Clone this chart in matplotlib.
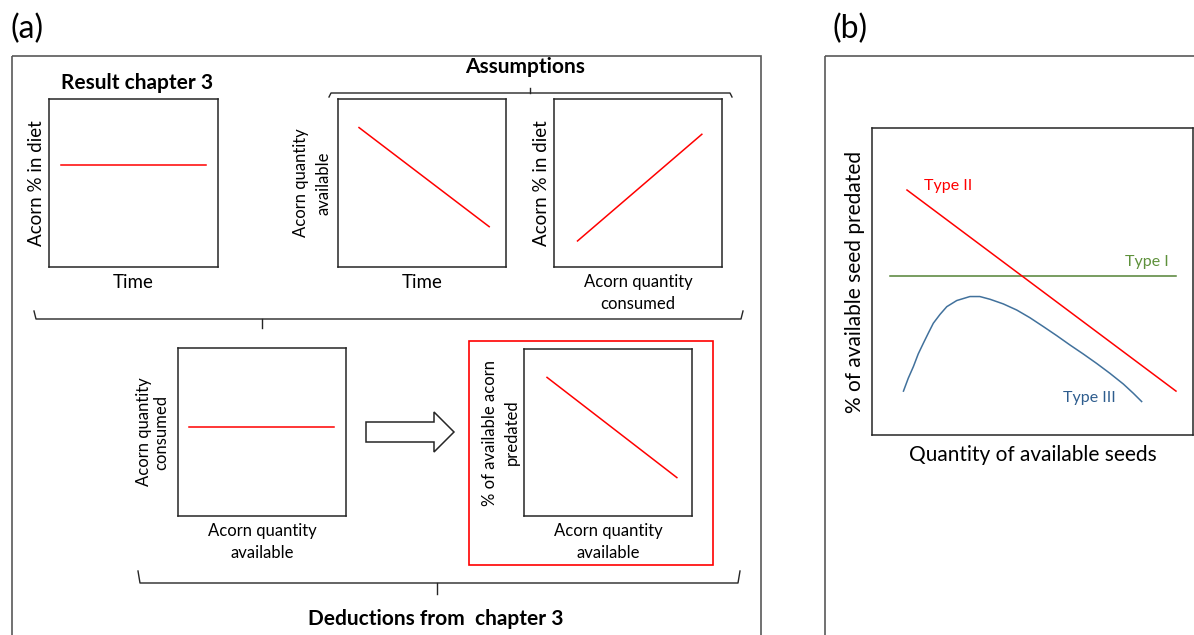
import matplotlib
matplotlib.use("Agg")
import matplotlib.pyplot as plt
from matplotlib.patches import Rectangle, Polygon

plt.rcParams["font.family"] = ["Lato", "DejaVu Sans"]

# ---------------------------------------------------------------
# data (normalised 0-1 within each small panel)
# ---------------------------------------------------------------
# (a) top row
result_x = [0.07, 0.93]
result_y = [0.61, 0.61]
avail_time_x = [0.125, 0.90]
avail_time_y = [0.83, 0.24]
diet_consumed_x = [0.14, 0.88]
diet_consumed_y = [0.155, 0.79]
# (a) bottom row
consumed_x = [0.065, 0.93]
consumed_y = [0.53, 0.53]
predated_x = [0.137, 0.91]
predated_y = [0.83, 0.23]

# (b) functional responses
type1_x = [0.056, 0.947]
type1_y = [0.518, 0.518]
type2_x = [0.109, 0.947]
type2_y = [0.798, 0.143]
type3_x = [0.098, 0.113, 0.129, 0.144, 0.160, 0.176, 0.191, 0.212, 0.233,
           0.264, 0.305, 0.336, 0.368, 0.409, 0.451, 0.492, 0.534, 0.575,
           0.617, 0.658, 0.700, 0.741, 0.783, 0.814, 0.840]
type3_y = [0.143, 0.185, 0.223, 0.264, 0.299, 0.333, 0.364, 0.393, 0.418,
           0.438, 0.451, 0.451, 0.442, 0.427, 0.407, 0.382, 0.353, 0.324,
           0.293, 0.264, 0.233, 0.201, 0.166, 0.136, 0.109]

W, H = 1194, 635
fig = plt.figure(figsize=(W / 100, H / 100), dpi=100)

# overlay in pixel coordinates for frames, braces, arrow and headings
ov = fig.add_axes([0, 0, 1, 1])
ov.set_xlim(0, W)
ov.set_ylim(H, 0)
ov.axis("off")

FRAME = "#595959"
BOX = "#262626"
RED = "#FF0000"


def px_axes(l, t, r, b):
    ax = fig.add_axes([l / W, 1 - b / H, (r - l) / W, (b - t) / H])
    ax.set_xlim(0, 1)
    ax.set_ylim(0, 1)
    ax.set_xticks([])
    ax.set_yticks([])
    for s in ax.spines.values():
        s.set_color(BOX)
        s.set_linewidth(1.1)
    return ax


def brace(x0, x1, xc, y, tip, end):
    # horizontal brace: ends bend by `end` px, centre tick by `tip` px
    ov.plot([x0, x0 + 2, x1 - 2, x1], [y + end, y, y, y + end], color=BOX, lw=1.0,
            solid_joinstyle="round")
    ov.plot([xc, xc], [y, y + tip], color=BOX, lw=1.0)


# outer frames
ov.add_patch(Rectangle((12, 56), 749, 700, fill=False, ec=FRAME, lw=1.2))
ov.add_patch(Rectangle((825, 56), 500, 700, fill=False, ec=FRAME, lw=1.2))
ov.text(11, 29, "(a)", fontsize=23, va="center", ha="left")
ov.text(833, 29, "(b)", fontsize=23, va="center", ha="left")

# headings and braces
HEAD = 15
ov.text(137, 83, "Result chapter 3", fontsize=HEAD, fontweight="bold", ha="center", va="center")
ov.text(525, 67, "Assumptions", fontsize=HEAD, fontweight="bold", ha="center", va="center")
brace(329, 732, 530, 93, -5, 4)
brace(34, 743, 262, 319, 9, -8)
brace(138, 740, 437, 583, 11, -12)
ov.text(436, 619, "Deductions from  chapter 3", fontsize=HEAD, fontweight="bold",
        ha="center", va="center")

# red highlight box and arrow
ov.add_patch(Rectangle((469, 341), 244, 224, fill=False, ec=RED, lw=1.2))
arrow = [(366, 422), (434, 422), (434, 412), (454, 432), (434, 452), (434, 442), (366, 442)]
ov.add_patch(Polygon(arrow, closed=True, fc="white", ec=BOX, lw=1.1))

LBL = 13.5
SML = 12
LS = 1.45

# panel 1: result chapter 3
ax1 = px_axes(49, 99, 218, 267)
ax1.plot(result_x, result_y, color=RED, lw=1.1)
ax1.set_xlabel("Time", fontsize=LBL, labelpad=5)
ax1.set_ylabel("Acorn % in diet", fontsize=LBL, labelpad=3)

# panel 2: availability over time
ax2 = px_axes(338, 99, 506, 267)
ax2.plot(avail_time_x, avail_time_y, color=RED, lw=1.1)
ax2.set_xlabel("Time", fontsize=LBL, labelpad=5)
ax2.set_ylabel("Acorn quantity\navailable", fontsize=SML, labelpad=5, linespacing=LS)

# panel 3: diet vs consumed
ax3 = px_axes(554, 99, 722, 267)
ax3.plot(diet_consumed_x, diet_consumed_y, color=RED, lw=1.1)
ax3.set_xlabel("Acorn quantity\nconsumed", fontsize=SML, labelpad=5, linespacing=LS)
ax3.set_ylabel("Acorn % in diet", fontsize=LBL, labelpad=3)

# panel 4: consumed vs available
ax4 = px_axes(178, 348, 346, 516)
ax4.plot(consumed_x, consumed_y, color=RED, lw=1.1)
ax4.set_xlabel("Acorn quantity\navailable", fontsize=SML, labelpad=5, linespacing=LS)
ax4.set_ylabel("Acorn quantity\nconsumed", fontsize=SML, labelpad=6, linespacing=1.15)

# panel 5: % predated vs available
ax5 = px_axes(524, 349, 692, 516)
ax5.plot(predated_x, predated_y, color=RED, lw=1.1)
ax5.set_xlabel("Acorn quantity\navailable", fontsize=SML, labelpad=5, linespacing=LS)
ax5.set_ylabel("% of available acorn\npredated", fontsize=SML, labelpad=3, linespacing=LS)

# (b) functional responses
axb = px_axes(872, 128, 1193, 435)
axb.plot(type1_x, type1_y, color="#548235", lw=1.1)
axb.plot(type2_x, type2_y, color=RED, lw=1.1)
axb.plot(type3_x, type3_y, color="#41719C", lw=1.1)
axb.text(0.162, 0.81, "Type II", color=RED, fontsize=11.5, va="center", ha="left",
         transform=axb.transAxes)
axb.text(0.923, 0.563, "Type I", color="#5E913B", fontsize=11.5, va="center", ha="right",
         transform=axb.transAxes)
axb.text(0.595, 0.12, "Type III", color="#2E5D8E", fontsize=11.5, va="center", ha="left",
         transform=axb.transAxes)
axb.set_xlabel("Quantity of available seeds", fontsize=15, labelpad=7)
axb.set_ylabel("% of available seed predated", fontsize=15, labelpad=5)

fig.savefig("out.png", dpi=100)
